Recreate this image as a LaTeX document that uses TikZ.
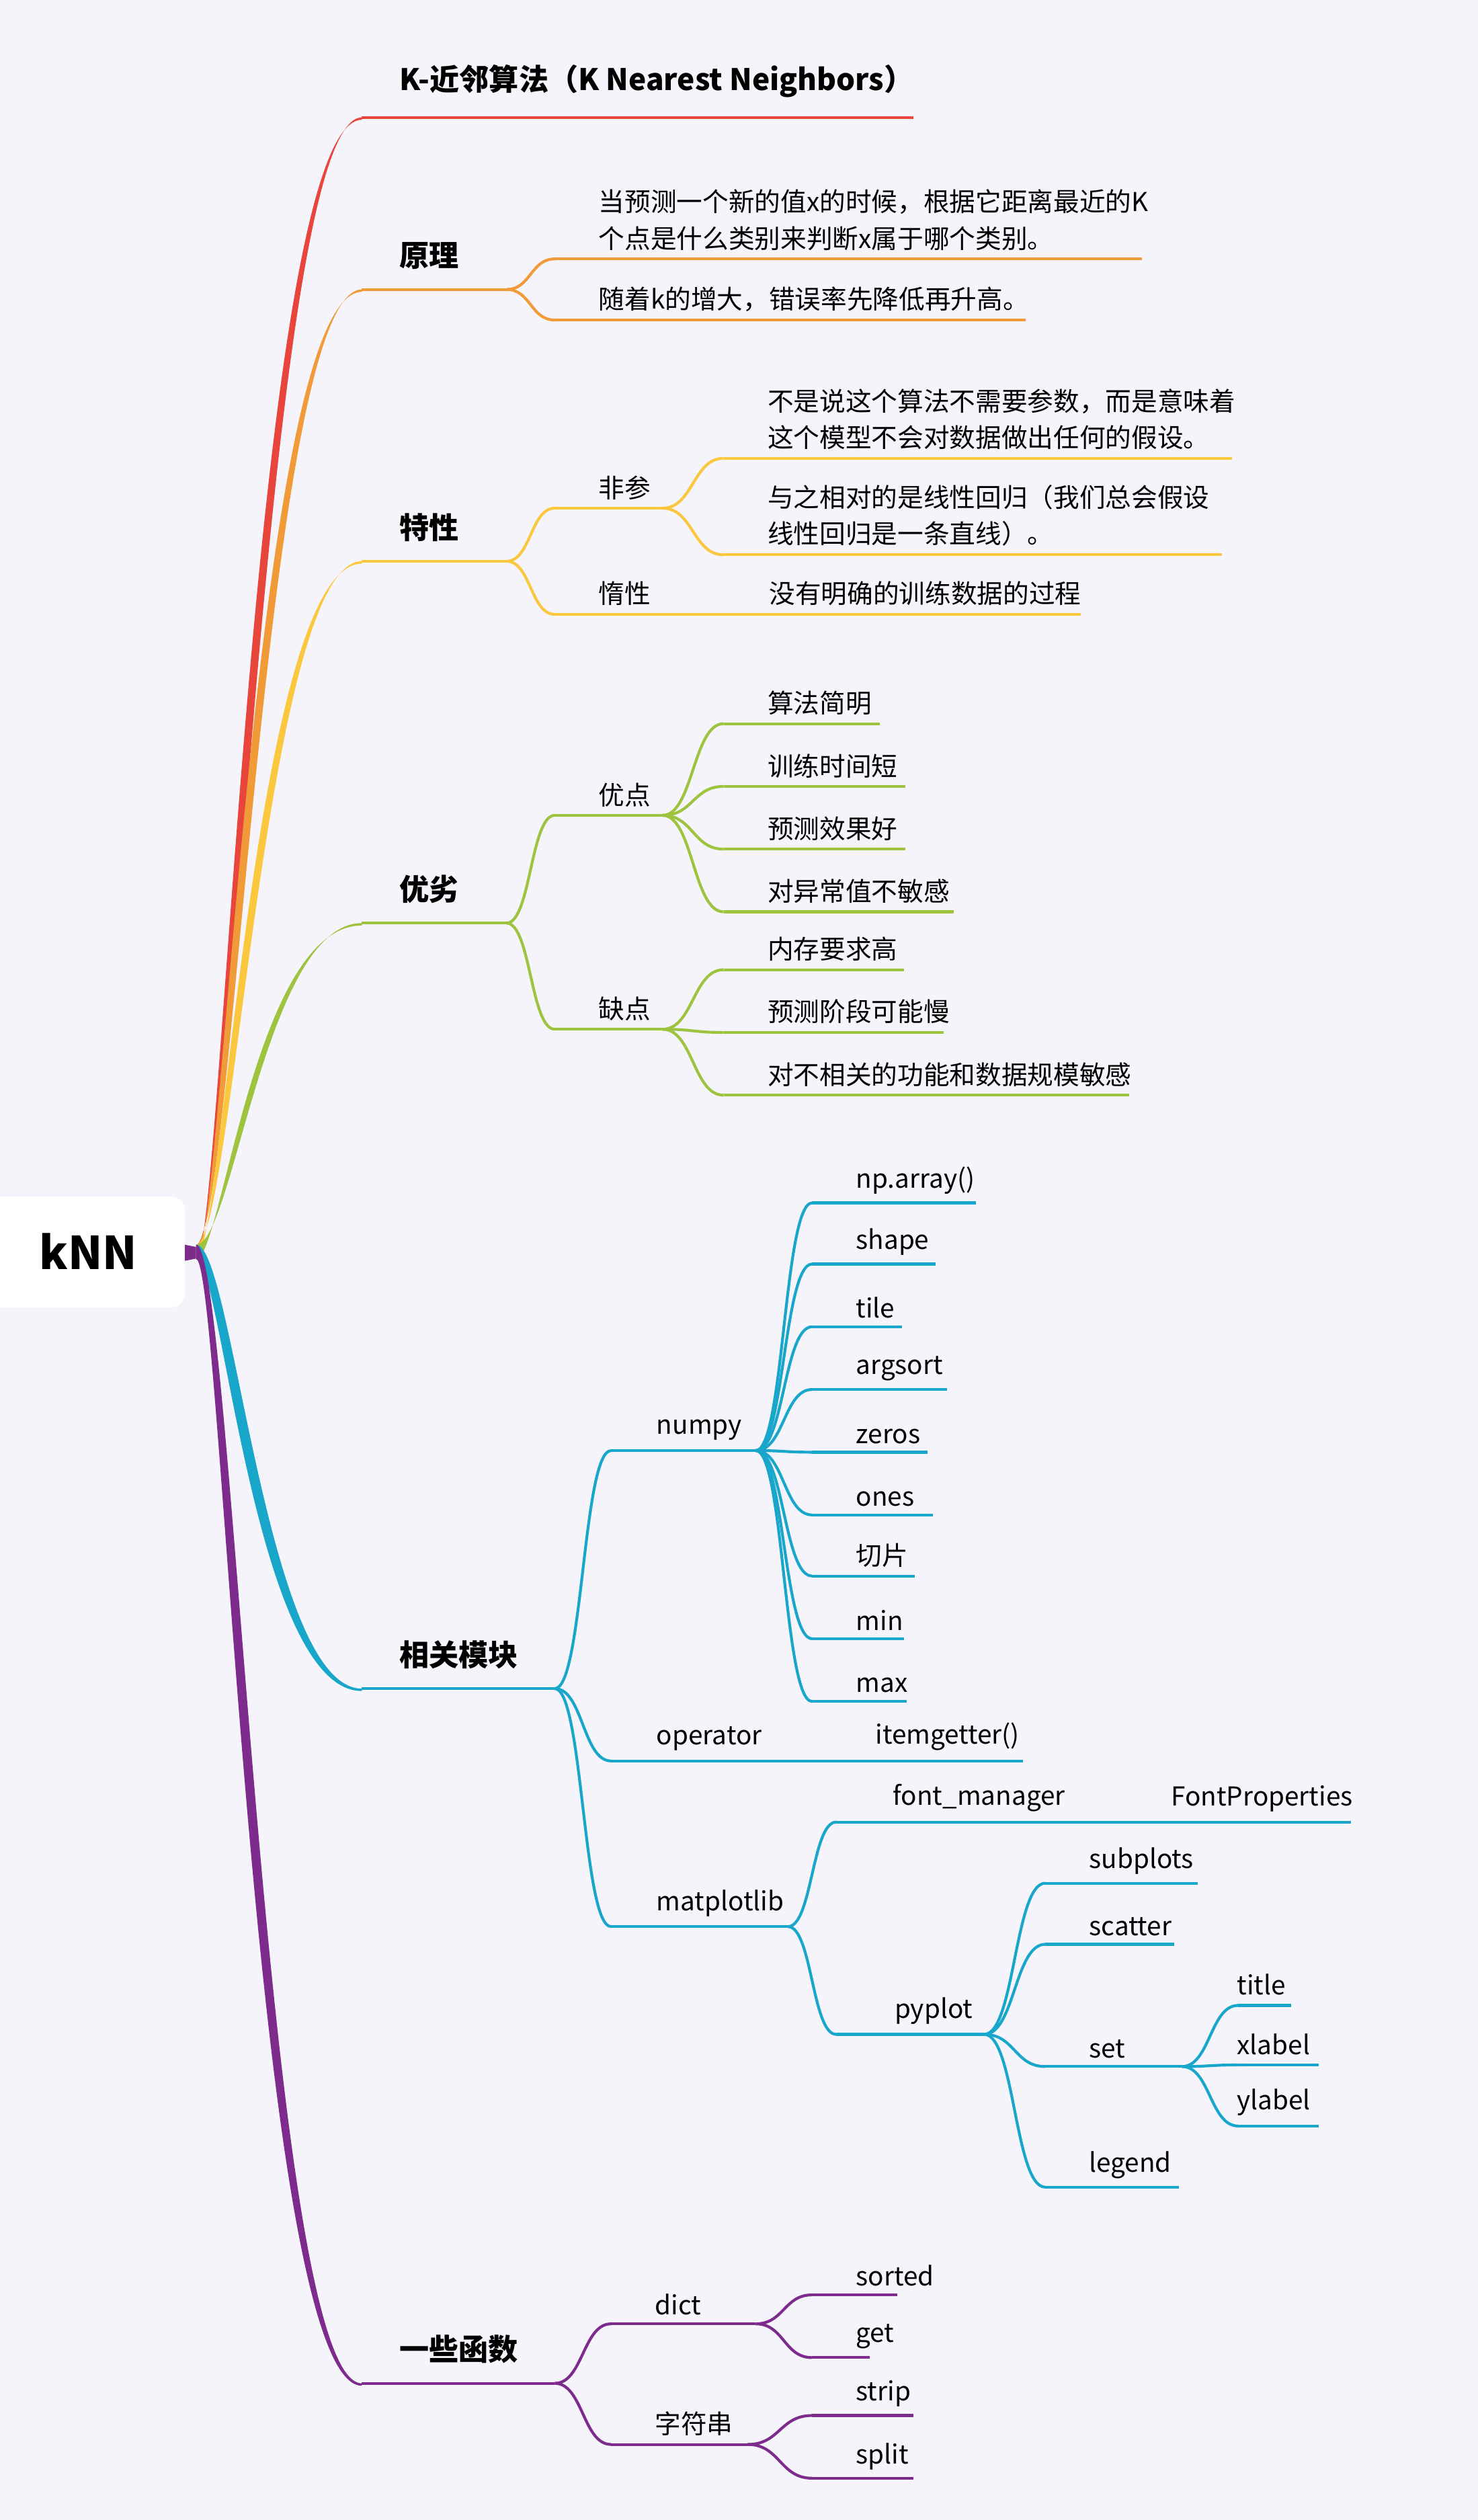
\documentclass[tikz,border=0pt]{standalone}
\usepackage{fontspec}
\setmainfont{Noto Sans CJK SC}
\definecolor{cred}{HTML}{E8453C}
\definecolor{corange}{HTML}{F19A38}
\definecolor{cyellow}{HTML}{FAC73E}
\definecolor{cgreen}{HTML}{9DC33F}
\definecolor{cblue}{HTML}{19A6CB}
\definecolor{cpurple}{HTML}{7D2C8E}
\definecolor{bgcol}{HTML}{F5F4FA}
\tikzset{
  uline/.style={line width=0.35mm},
  lbl/.style={inner sep=0pt, anchor=south west, align=left, font=\fontsize{9.2}{13}\selectfont},
  mainlbl/.style={lbl, font=\fontsize{10.5}{13}\selectfont\bfseries}
}
% tapered branch from the root
\newcommand\mainbranch[3]{\fill[#1] (122,774) .. controls (145,774) and (165,#2) .. (#3,#2) -- (#3,{#2+1.5}) .. controls (158,{#2+1.5}) and (138,783) .. (122,783) -- cycle;}
% curved twig between two levels
\newcommand\twig[5]{\draw[#1,uline] (#2,#3) .. controls ({(#2+#4)/2},#3) and ({(#2+#4)/2},#5) .. (#4,#5);}
% underlined label
\newcommand\leaf[6]{\draw[#1,uline] (#3,#5) -- (#4,#5); \node[lbl] (#2) at ({#3+27},{#5-5}) {#6};}
\newcommand\topic[6]{\draw[#1,uline] (#3,#5) -- (#4,#5); \node[mainlbl] (#2) at ({#3+23},{#5-12}) {#6};}

\begin{document}
\begin{tikzpicture}[x=0.02cm,y=-0.02cm]
  %%%%% START %%%%%
  \fill[bgcol] (0,0) rectangle (919,1567);
  \useasboundingbox (0,0) rectangle (919,1567);

  \fill[white, rounded corners=5] (-10,744) rectangle (115,813);
  \node[font=\fontsize{16}{20}\selectfont\bfseries] (root) at (55,778) {kNN};
  \fill[cpurple] (115,774) -- (125,776) -- (125,782) -- (115,784) -- cycle;

  \mainbranch{cred}{73}{225}
  \mainbranch{corange}{180}{225}
  \mainbranch{cyellow}{349}{225}
  \mainbranch{cgreen}{574}{225}
  \mainbranch{cblue}{1050}{225}
  \mainbranch{cpurple}{1482}{225}

  % K-nn
  \topic{cred}{title}{225}{568}{73}{K-近邻算法（K Nearest Neighbors）}

  % principle
  \topic{corange}{yuanli}{225}{315}{180}{原理}
  \twig{corange}{315}{180}{345}{161}
  \twig{corange}{315}{180}{345}{199}
  \leaf{corange}{yl1}{345}{710}{161}{当预测一个新的值x的时候，根据它距离最近的K\\个点是什么类别来判断x属于哪个类别。}
  \leaf{corange}{yl2}{345}{638}{199}{随着k的增大，错误率先降低再升高。}

  % properties
  \topic{cyellow}{texing}{225}{315}{349}{特性}
  \twig{cyellow}{315}{349}{345}{316}
  \twig{cyellow}{315}{349}{345}{382}
  \leaf{cyellow}{feican}{345}{412}{316}{非参}
  \draw[cyellow,uline] (345,382) -- (672,382);
  \node[lbl] (duoxing) at (372,377) {惰性};
  \node[lbl] (dx1) at (478,377) {没有明确的训练数据的过程};
  \twig{cyellow}{412}{316}{450}{285}
  \twig{cyellow}{412}{316}{450}{345}
  \leaf{cyellow}{fc1}{450}{766}{285}{不是说这个算法不需要参数，而是意味着\\这个模型不会对数据做出任何的假设。}
  \leaf{cyellow}{fc2}{450}{760}{345}{与之相对的是线性回归（我们总会假设\\线性回归是一条直线）。}

  % pros and cons
  \topic{cgreen}{youlie}{225}{315}{574}{优劣}
  \twig{cgreen}{315}{574}{345}{507}
  \twig{cgreen}{315}{574}{345}{640}
  \leaf{cgreen}{youdian}{345}{412}{507}{优点}
  \leaf{cgreen}{quedian}{345}{412}{640}{缺点}
  \foreach \yy/\xe/\tx [count=\i] in {450/547/算法简明, 489/563/训练时间短, 528/563/预测效果好, 567/593/对异常值不敏感}{
    \twig{cgreen}{412}{507}{450}{\yy}
    \leaf{cgreen}{yd\i}{450}{\xe}{\yy}{\tx}
  }
  \foreach \yy/\xe/\tx [count=\i] in {603/562/内存要求高, 642/587/预测阶段可能慢, 681/702/对不相关的功能和数据规模敏感}{
    \twig{cgreen}{412}{640}{450}{\yy}
    \leaf{cgreen}{qd\i}{450}{\xe}{\yy}{\tx}
  }

  % modules
  \topic{cblue}{mokuai}{225}{345}{1050}{相关模块}
  \twig{cblue}{345}{1050}{380}{902}
  \twig{cblue}{345}{1050}{380}{1095}
  \twig{cblue}{345}{1050}{380}{1198}
  \draw[cblue,uline] (380,902) -- (470,902);
  \node[lbl] (numpy) at (408,896) {numpy};
  \foreach \yy/\xe/\tx [count=\i] in {748/607/np.array(), 786/582/shape, 825/561/tile, 864/589/argsort, 903/577/zeros, 942/580/ones, 980/569/切片, 1019/562/min, 1058/564/max}{
    \twig{cblue}{470}{902}{505}{\yy}
    \leaf{cblue}{np\i}{505}{\xe}{\yy}{\tx}
  }
  \draw[cblue,uline] (380,1095) -- (636,1095);
  \node[lbl] (operator) at (408,1089) {operator};
  \node[lbl] (itemgetter) at (544,1089) {itemgetter()};
  \draw[cblue,uline] (380,1198) -- (490,1198);
  \node[lbl] (matplotlib) at (408,1192) {matplotlib};
  \twig{cblue}{490}{1198}{520}{1133}
  \twig{cblue}{490}{1198}{520}{1265}
  \draw[cblue,uline] (520,1133) -- (840,1133);
  \node[lbl] (fontmgr) at (555,1127) {font\_manager};
  \node[lbl] (fontprop) at (728,1127) {FontProperties};
  \draw[cblue,uline] (520,1265) -- (612,1265);
  \node[lbl] (pyplot) at (556,1259) {pyplot};
  \foreach \yy/\xe/\tx [count=\i] in {1171/745/subplots, 1209/730/scatter, 1285/735/set, 1360/733/legend}{
    \twig{cblue}{612}{1265}{650}{\yy}
    \leaf{cblue}{plt\i}{650}{\xe}{\yy}{\tx}
  }
  \foreach \yy/\xe/\tx [count=\i] in {1247/803/title, 1284/820/xlabel, 1322/820/ylabel}{
    \twig{cblue}{735}{1285}{770}{\yy}
    \draw[cblue,uline] (770,\yy) -- (\xe,\yy);
    \node[lbl] (set\i) at (769,{\yy-6}) {\tx};
  }

  % functions
  \topic{cpurple}{hanshu}{225}{345}{1482}{一些函数}
  \twig{cpurple}{345}{1482}{380}{1445}
  \twig{cpurple}{345}{1482}{380}{1520}
  \leaf{cpurple}{dict}{380}{470}{1445}{dict}
  \leaf{cpurple}{str}{380}{465}{1520}{字符串}
  \foreach \yy/\xe/\tx [count=\i] in {1427/558/sorted, 1466/541/get}{
    \twig{cpurple}{470}{1445}{505}{\yy}
    \leaf{cpurple}{dc\i}{505}{\xe}{\yy}{\tx}
  }
  \foreach \yy/\xe/\tx [count=\i] in {1502/568/strip, 1541/568/split}{
    \twig{cpurple}{465}{1520}{505}{\yy}
    \leaf{cpurple}{sc\i}{505}{\xe}{\yy}{\tx}
  }
  %%%%% END %%%%%
\end{tikzpicture}
\end{document}
